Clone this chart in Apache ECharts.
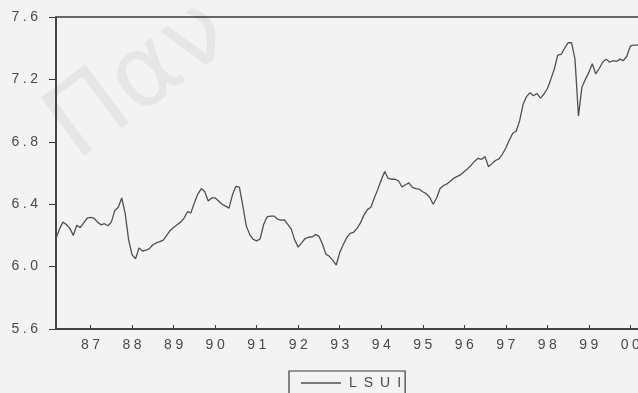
<!DOCTYPE html>
<html>
<head>
<meta charset="utf-8">
<script src="https://cdn.jsdelivr.net/npm/echarts@6/dist/echarts.min.js"></script>
<style>
html,body{margin:0;padding:0;background:#f3f3f3;}
#c{width:638px;height:393px;}
</style>
</head>
<body>
<div id="c"></div>
<script>
// Monthly observations of LSUI, starting 1986:03
const startYear = 1986;
const startMonth = 3;
const lsui = [
6.18,6.24,6.285,6.27,6.245,6.20,6.265,6.25,6.28,6.31,
6.316,6.31,6.285,6.268,6.275,6.262,6.285,6.36,6.38,6.44,
6.34,6.17,6.075,6.05,6.12,6.10,6.105,6.115,6.14,6.152,
6.16,6.17,6.20,6.232,6.25,6.268,6.285,6.31,6.352,6.345,
6.41,6.465,6.50,6.48,6.42,6.44,6.44,6.42,6.40,6.388,
6.375,6.46,6.515,6.51,6.39,6.26,6.205,6.175,6.165,6.178,
6.27,6.318,6.324,6.324,6.305,6.298,6.30,6.27,6.24,6.17,
6.125,6.152,6.18,6.188,6.19,6.205,6.195,6.145,6.08,6.066,
6.04,6.01,6.09,6.14,6.185,6.213,6.22,6.245,6.28,6.33,
6.365,6.38,6.44,6.495,6.555,6.61,6.565,6.56,6.56,6.55,
6.51,6.525,6.537,6.508,6.50,6.496,6.48,6.468,6.445,6.40,
6.44,6.50,6.52,6.53,6.548,6.567,6.578,6.59,6.61,6.628,
6.65,6.676,6.694,6.688,6.705,6.64,6.66,6.68,6.69,6.72,
6.76,6.81,6.855,6.868,6.935,7.04,7.09,7.115,7.095,7.11,
7.08,7.105,7.14,7.20,7.265,7.356,7.36,7.40,7.435,7.435,
7.33,6.965,7.15,7.20,7.245,7.30,7.235,7.27,7.31,7.33,
7.31,7.32,7.315,7.33,7.32,7.35,7.415,7.42,7.42,7.43
];
const extraMonths = 6; // frame continues past the visible edge
const yTicks = [5.6, 6.0, 6.4, 6.8, 7.2, 7.6];
const seriesName = 'LSUI';

const months = [];
for (let i = 0; i < lsui.length + extraMonths; i++) {
  const t = (startMonth - 1) + i;
  const y = startYear + Math.floor(t / 12);
  const m = (t % 12) + 1;
  months.push(y + '-' + (m < 10 ? '0' + m : '' + m));
}
const spaced = (s, sp) => s.split('').join(sp || '\u2005');

const chart = echarts.init(document.getElementById('c'), null, {renderer: 'canvas'});
const monthPx = 3.46;
chart.setOption({
  backgroundColor: '#f3f3f3',
  animation: false,
  textStyle: {fontFamily: 'Liberation Sans, Arial, sans-serif'},
  grid: {
    left: 56, top: 17, bottom: 64,
    width: (months.length - 1) * monthPx,
    outerBoundsMode: 'none',
    containLabel: false,
    show: true, borderColor: '#3a3a3a', borderWidth: 1.5,
    backgroundColor: 'transparent'
  },
  graphic: [{
    type: 'text', z: 0,
    x: 140, y: 82, rotation: 0.64,
    style: {
      text: 'Παν', fontSize: 100, fontFamily: 'DejaVu Sans, sans-serif',
      fill: 'rgba(0,0,0,0.05)', align: 'center', verticalAlign: 'middle'
    }
  }],
  xAxis: {
    type: 'category', data: months, boundaryGap: false,
    axisLine: {lineStyle: {color: '#3a3a3a', width: 1.5}},
    axisTick: {
      inside: true, length: 4,
      interval: (i, v) => v.endsWith('-01'),
      lineStyle: {color: '#3a3a3a'}
    },
    axisLabel: {
      interval: (i, v) => v.endsWith('-01'),
      formatter: v => spaced(v.slice(2, 4)),
      color: '#4a4a4a', fontSize: 14, margin: 9
    },
    splitLine: {show: false}
  },
  yAxis: {
    type: 'value', min: yTicks[0], max: yTicks[yTicks.length - 1], interval: 0.4,
    axisLine: {show: true, lineStyle: {color: '#3a3a3a', width: 1.5}},
    axisTick: {show: true, length: 7, lineStyle: {color: '#3a3a3a'}},
    axisLabel: {
      formatter: v => spaced(v.toFixed(1)),
      color: '#4a4a4a', fontSize: 14, margin: 18
    },
    splitLine: {show: false}
  },
  legend: {
    left: 289, top: 371,
    data: [{name: seriesName, icon: 'rect'}],
    formatter: n => spaced(n, '\u2002'),
    borderColor: '#3a3a3a', borderWidth: 1.2,
    padding: [5, 4, 6, 12],
    itemWidth: 40, itemHeight: 1.3,
    itemStyle: {color: '#505050'},
    textStyle: {color: '#4a4a4a', fontSize: 14, padding: [0, 0, 0, 3]}
  },
  series: [{
    name: seriesName, type: 'line', data: lsui,
    symbol: 'none', smooth: false,
    lineStyle: {color: '#505050', width: 1.3},
    itemStyle: {color: '#505050'}
  }]
});
</script>
</body>
</html>
